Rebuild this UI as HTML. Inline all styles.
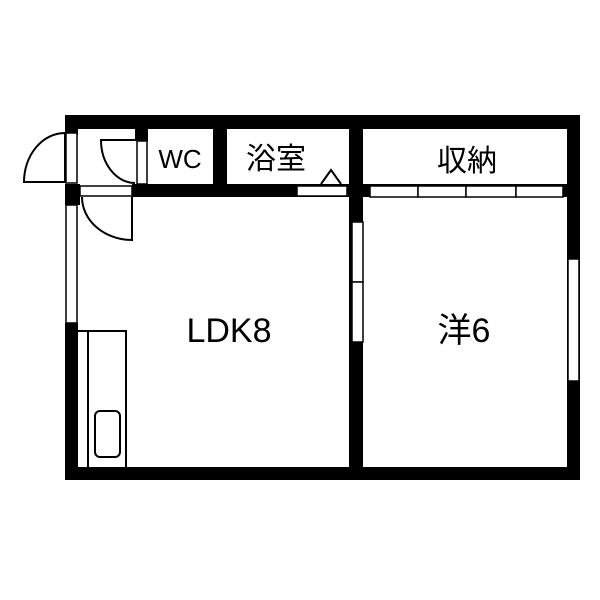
<!DOCTYPE html>
<html><head><style>body{margin:0;background:#fff}svg{display:block}text{font-family:"Liberation Sans","Noto Sans CJK JP",sans-serif;fill:#000}</style></head>
<body>
<svg width="600" height="600" viewBox="0 0 600 600" xmlns="http://www.w3.org/2000/svg">
<rect width="600" height="600" fill="#fff"/>
<g fill="#000">
<rect x="65" y="115" width="515" height="14"/>
<rect x="65" y="467" width="515" height="13"/>
<rect x="567" y="115" width="13" height="365"/>
<rect x="65" y="323" width="13" height="157"/>
<rect x="65" y="184" width="15" height="21"/>
<rect x="65" y="115" width="13" height="20"/>
<rect x="132" y="184" width="236" height="13"/>
<rect x="349" y="115" width="14" height="365"/>
<rect x="363" y="184" width="204" height="13"/>
<rect x="135" y="129" width="13" height="12"/>
<rect x="213" y="129" width="14" height="55"/>
</g>
<g fill="#fff" stroke="#000" stroke-width="1.5">
<rect x="66" y="133" width="11" height="50"/>
<rect x="80" y="186" width="52" height="10"/>
<rect x="66" y="205" width="11" height="118"/>
<rect x="137" y="141" width="10" height="43"/>
<rect x="297" y="186" width="50" height="10"/>
<rect x="352" y="222" width="11" height="60"/>
<rect x="352" y="282" width="11" height="60"/>
<rect x="370" y="186" width="48" height="11"/>
<rect x="418" y="186" width="48" height="11"/>
<rect x="466" y="186" width="50" height="11"/>
<rect x="516" y="186" width="47" height="11"/>
<rect x="568" y="259" width="11" height="122"/>
</g>
<g fill="none" stroke="#000" stroke-width="2">
<path d="M65 133 V182 H24 A41 49 0 0 1 65 133"/>
<path d="M135 140 H101 A34 43 0 0 0 135 183"/>
<path d="M132 197 V240 A50 43 0 0 1 82 197"/>
<path d="M78 331 H126 V467 M88 331 V467"/>
<rect x="95" y="411" width="25" height="46" rx="5"/>
<path d="M321 184 L331 170 L341 184"/>
</g>
<text x="180" y="168" font-size="26" text-anchor="middle">WC</text>
<text x="276" y="169" font-size="30" text-anchor="middle">浴室</text>
<text x="467" y="171" font-size="30" text-anchor="middle">収納</text>
<text x="229" y="342" font-size="34" text-anchor="middle">LDK8</text>
<text x="464" y="342" font-size="34" text-anchor="middle">洋6</text>
</svg>
</body></html>
